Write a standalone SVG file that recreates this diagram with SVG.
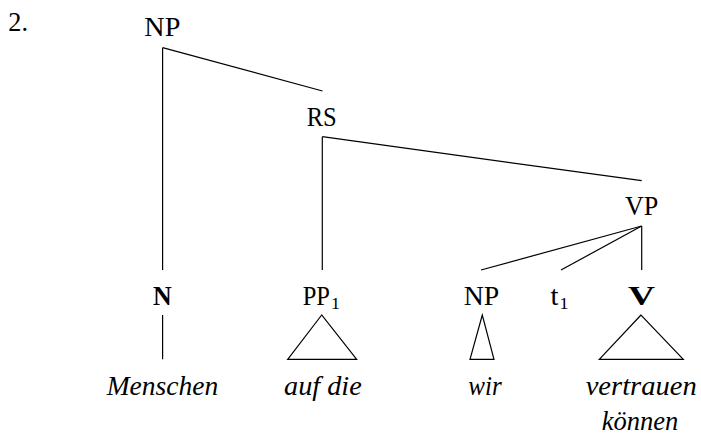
<svg xmlns="http://www.w3.org/2000/svg" width="701" height="434" viewBox="0 0 701 434">
<style>
  text { font-family: "Liberation Serif", "Times New Roman", serif; font-size: 27px; fill: #000; }
  .b { font-weight: bold; }
  .i { font-style: italic; }
  .sub { font-size: 17px; }
  line, polygon { stroke: #000; stroke-width: 1.2; fill: none; }
</style>
<rect width="701" height="434" fill="#fff"/>
<text id="num" x="8.3" y="30.5" textLength="19.7" lengthAdjust="spacingAndGlyphs">2.</text>
<g id="connectors">
  <line x1="162.6" y1="47.7" x2="162.6" y2="270"/>
  <line x1="162.6" y1="47.7" x2="322.5" y2="91"/>
  <line x1="322.3" y1="136.7" x2="322.3" y2="270"/>
  <line x1="322.3" y1="136.7" x2="641.7" y2="180.7"/>
  <line x1="641.7" y1="226" x2="481" y2="270"/>
  <line x1="641.7" y1="226" x2="561" y2="270"/>
  <line x1="641.7" y1="226" x2="641.7" y2="270"/>
  <line x1="162.6" y1="315" x2="162.6" y2="359.3"/>
  <polygon points="321.7,315 287.7,359.3 356.7,359.3"/>
  <polygon points="482.3,315 470,359.3 494,359.3"/>
  <polygon points="641,315 599.3,359.3 683.3,359.3"/>
</g>
<g id="np-top"><text x="144.3" y="36.3" textLength="36" lengthAdjust="spacingAndGlyphs">NP</text></g>
<g id="rs"><text x="306.7" y="126" textLength="30" lengthAdjust="spacingAndGlyphs">RS</text></g>
<g id="vp"><text x="625" y="215" textLength="33.3" lengthAdjust="spacingAndGlyphs">VP</text></g>
<g id="n"><text class="b" x="153" y="304.5" textLength="18.7" lengthAdjust="spacingAndGlyphs">N</text></g>
<g id="pp1"><text x="302.7" y="304.5" textLength="27.3" lengthAdjust="spacingAndGlyphs">PP</text><text class="sub" x="331" y="309" textLength="9" lengthAdjust="spacingAndGlyphs">1</text></g>
<g id="np"><text x="463.8" y="304.5" textLength="35.5" lengthAdjust="spacingAndGlyphs">NP</text></g>
<g id="t1"><text x="550.5" y="304.5" textLength="8" lengthAdjust="spacingAndGlyphs">t</text><text class="sub" x="559.5" y="309" textLength="9" lengthAdjust="spacingAndGlyphs">1</text></g>
<g id="v"><text class="b" x="628" y="304.5" textLength="27" lengthAdjust="spacingAndGlyphs">V</text></g>
<g id="menschen"><text class="i" x="106.7" y="394.5" textLength="111.6" lengthAdjust="spacingAndGlyphs">Menschen</text></g>
<g id="aufdie"><text class="i" x="284" y="394.5" textLength="77.7" lengthAdjust="spacingAndGlyphs">auf die</text></g>
<g id="wir"><text class="i" x="468.3" y="394.5" textLength="33.4" lengthAdjust="spacingAndGlyphs">wir</text></g>
<g id="vertrauen"><text class="i" x="585.7" y="394.5" textLength="111" lengthAdjust="spacingAndGlyphs">vertrauen</text><text class="i" x="601.7" y="429.8" textLength="76.6" lengthAdjust="spacingAndGlyphs">können</text></g>
</svg>
